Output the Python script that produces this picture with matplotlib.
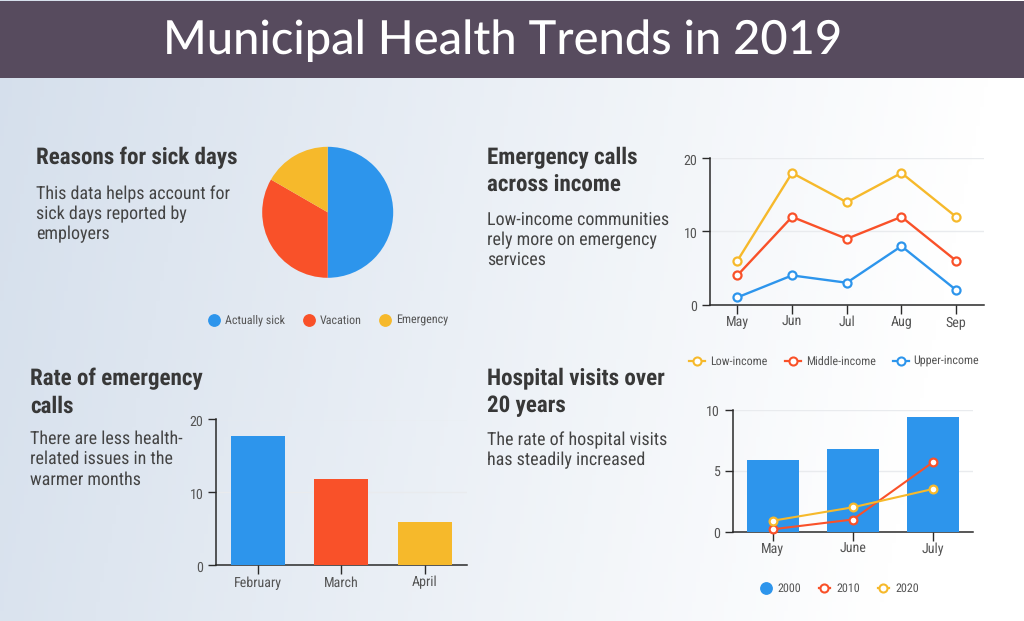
import matplotlib
matplotlib.use('Agg')
import matplotlib.pyplot as plt
import numpy as np
from matplotlib import font_manager as fm
from matplotlib.lines import Line2D
from matplotlib.transforms import ScaledTranslation

W, H = 1024, 621
names = sorted({f.name for f in fm.fontManager.ttflist})
narrow = next((n for n in ['Roboto Condensed', 'Liberation Sans Narrow', 'Roboto'] if n in names), 'DejaVu Sans')
plt.rcParams['font.family'] = [narrow, 'DejaVu Sans']
plt.rcParams['text.hinting'] = 'none'
plt.rcParams['text.hinting_factor'] = 1

BLUE, RED, YEL = '#2d95ec', '#f95129', '#f6b92b'
TXT, DARK, AX, GRID = '#444444', '#383838', '#2a2a2a', '#e9ebee'

pie_labels = ['Actually sick', 'Vacation', 'Emergency']
pie_values = [3, 2, 1]
months_a = ['May', 'Jun', 'Jul', 'Aug', 'Sep']
low_income = [6, 18, 14, 18, 12]
middle_income = [4, 12, 9, 12, 6]
upper_income = [1, 4, 3, 8, 2]
months_b = ['February', 'March', 'April']
rate_values = [17.8, 11.8, 5.9]
months_c = ['May', 'June', 'July']
visits_2000 = [5.9, 6.8, 9.4]
visits_2010 = [0.2, 1.0, 5.7]
visits_2020 = [0.9, 2.0, 3.5]

fig = plt.figure(figsize=(W/100, H/100), dpi=100)

def px_axes(l, t, r, b, **kw):
    return fig.add_axes([l/W, 1-b/H, (r-l)/W, (b-t)/H], **kw)

bg = px_axes(0, 0, W, H)
xx, yy = np.meshgrid(np.linspace(0, 1, 256), np.linspace(0, 1, 64))
t = np.clip((xx + 0.12*yy) / 0.98, 0, 1)[..., None]
c0, c1 = np.array([0.835, 0.875, 0.925]), np.array([1, 1, 1.0])
bg.imshow(c0 + (c1-c0)*t, aspect='auto', extent=[0, W, H, 0], zorder=0)
bg.add_patch(plt.Rectangle((0, 1), W, 76.5, color='#574b5e', lw=0, zorder=1))
bg.set_xlim(0, W); bg.set_ylim(H, 0); bg.axis('off')

def T(x, y, s, size, color=TXT, weight='normal', **kw):
    bg.text(x, y + 1.5, s, fontsize=size, color=color, fontweight=weight, va='center', ha=kw.pop('ha', 'left'), zorder=3, **kw)

bg.text(502.5, 41, 'Municipal Health Trends in 2019', fontsize=34.15, color='white', ha='center', va='center',
        family=['Lato', 'DejaVu Sans'], fontweight='medium', zorder=3)

head, body = 16.85, 12.75
T(36, 156, 'Reasons for sick days', head, DARK, 'bold')
for y, s in zip([193, 213, 233], ['This data helps account for', 'sick days reported by', 'employers']):
    T(36, y, s, body)
for y, s in zip([156, 184], ['Emergency calls', 'across income']):
    T(487, y, s, head, DARK, 'bold')
for y, s in zip([219, 239, 259], ['Low-income communities', 'rely more on emergency', 'services']):
    T(487, y, s, body)
for y, s in zip([377, 405], ['Rate of emergency', 'calls']):
    T(30, y, s, head, DARK, 'bold')
for y, s in zip([437, 457, 478], ['There are less health-', 'related issues in the', 'warmer months']):
    T(30, y, s, body)
for y, s in zip([377, 405], ['Hospital visits over', '20 years']):
    T(487, y, s, head, DARK, 'bold')
for y, s in zip([439, 459], ['The rate of hospital visits', 'has steadily increased']):
    T(487, y, s, body)

def style(ax, yticks):
    ax.patch.set_alpha(0)
    for s in ['top', 'right']:
        ax.spines[s].set_visible(False)
    for s in ['left', 'bottom']:
        ax.spines[s].set_color(AX); ax.spines[s].set_linewidth(1.1)
    ax.set_yticks(yticks)
    ax.tick_params(axis='y', length=6, width=1, color=AX, labelsize=10, labelcolor='#555555', pad=3)
    ax.tick_params(axis='x', length=6.5, width=1, color=AX, labelsize=9.8, labelcolor='#555555', pad=1.5)
    ax.grid(axis='y', color=GRID, lw=1); ax.set_axisbelow(True)
    off = ScaledTranslation(0, -1.3/100, fig.dpi_scale_trans)
    for l in ax.get_yticklabels():
        l.set_transform(l.get_transform() + off)

def marker_line(ax, vals, col, lw=1.7, ms=5.8):
    ax.plot(range(len(vals)), vals, color=col, lw=lw, marker='o', ms=ms, mfc='white', mec=col, mew=1.6, clip_on=False, zorder=4)

def legend(items, y):
    for x, tx, label, col, half in items:
        if half == 0:
            bg.add_line(Line2D([x], [y], marker='o', ms=8.2, color=col, lw=0, zorder=3))
        else:
            bg.add_line(Line2D([x-half, x+half], [y, y], color=col, lw=1.6, zorder=3))
            bg.add_line(Line2D([x], [y], marker='o', ms=5.8, mfc='white', mec=col, mew=1.5, lw=0, zorder=3))
        T(tx, y - 0.5, label, 8.45, '#555555')

# Pie
ax = px_axes(327.7-65.5, 212.3-65.5, 327.7+65.5, 212.3+65.5)
ax.pie(pie_values, colors=[BLUE, RED, YEL], startangle=90, counterclock=False, radius=1)
ax.set_xlim(-1, 1); ax.set_ylim(-1, 1); ax.patch.set_alpha(0)
legend([(214, 225, pie_labels[0], BLUE, 0), (309, 320, pie_labels[1], RED, 0), (385, 396, pie_labels[2], YEL, 0)], 319.5)

# Lines
ax = px_axes(710, 158.3, 983.5, 304.7)
ax.set_xlim(-0.5, 4.5); ax.set_ylim(0, 20)
ax.set_xticks(range(5), months_a)
style(ax, [0, 10, 20])
marker_line(ax, low_income, YEL); marker_line(ax, middle_income, RED); marker_line(ax, upper_income, BLUE)
legend([(697, 710, 'Low-income', YEL, 8), (793, 806, 'Middle-income', RED, 8), (901, 913, 'Upper-income', BLUE, 8)], 360.5)

# Bars
ax = px_axes(216, 419.5, 466.5, 565)
ax.set_xlim(-0.5, 2.5); ax.set_ylim(0, 20)
ax.bar(range(3), rate_values, width=0.65, color=[BLUE, RED, YEL], zorder=3)
ax.set_xticks(range(3), months_b)
style(ax, [0, 10, 20])

# Combo
ax = px_axes(732.7, 409.7, 973, 531.7)
ax.set_xlim(-0.5, 2.5); ax.set_ylim(0, 10)
ax.bar(range(3), visits_2000, width=0.645, color=BLUE, zorder=3)
ax.set_xticks(range(3), months_c)
style(ax, [0, 5, 10])
marker_line(ax, visits_2010, RED, 1.5, 5.6); marker_line(ax, visits_2020, YEL, 1.5, 5.6)
legend([(766, 777, '2000', BLUE, 0), (824, 836, '2010', RED, 5.5), (883, 895, '2020', YEL, 5.5)], 587.5)

fig.savefig('out.png', dpi=100)
